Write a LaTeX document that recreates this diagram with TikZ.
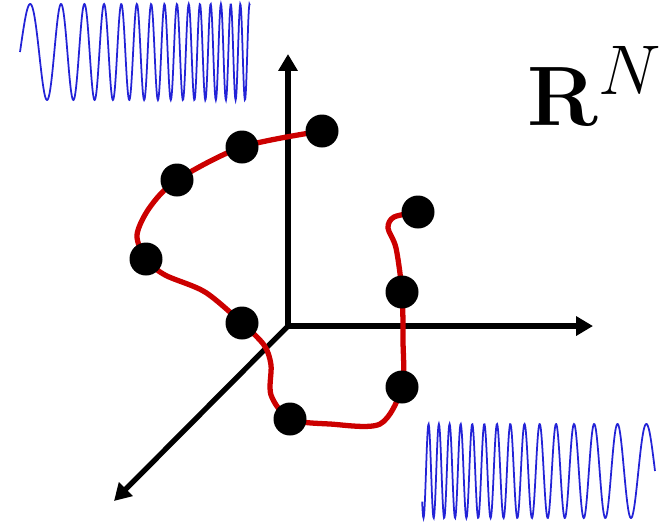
\documentclass[tikz,border=0pt]{standalone}
\usetikzlibrary{arrows.meta}
\definecolor{curvered}{RGB}{204,0,0}
\definecolor{chirpblue}{RGB}{35,35,215}
\begin{document}
\begin{tikzpicture}[x=0.02cm,y=-0.02cm,
  axis/.style={line width=3pt,-{Triangle[length=9.6pt,width=10.6pt]}},
  dot/.style={circle,fill=black,minimum size=0.66cm,inner sep=0pt},
  chirp/.style={chirpblue,line width=1pt},
  trajectory/.style={curvered,line width=3pt,line cap=round,line join=round}]
\useasboundingbox (0,0) rectangle (661,525);
\coordinate (o) at (288,326);
\coordinate (ytip) at (288,54);
\coordinate (xtip) at (593,326);
\coordinate (ztip) at (114,501);
\draw[axis] (o) -- (ytip);
\draw[axis] (o) -- (xtip);
\draw[axis] (o) -- (ztip);
\draw[chirp] plot[domain=0:1,samples=500,variable=\t] ({20+230*\t},{52-48*sin(360*(5.2*\t+10.1*\t*\t))});
\draw[chirp] plot[domain=0:1,samples=500,variable=\t] ({655-233*\t},{471-47*sin(360*(6.4*\t+8.5*\t*\t))});
\coordinate (p1) at (322,131);
\coordinate (p2) at (242,147);
\coordinate (p3) at (177,180);
\coordinate (p4) at (146,259);
\coordinate (p5) at (242,323);
\coordinate (p6) at (290,419);
\coordinate (p7) at (402,387);
\coordinate (p8) at (402,292);
\coordinate (p9) at (418,212);
\draw[trajectory] plot[smooth,tension=0.5] coordinates {(p1) (p2) (p3) (150,207) (137,235) (p4) (165,275) (205,292) (p5) (264,345) (271,365) (271,395) (p6) (330,424) (380,424) (p7) (403,340) (p8) (396,248) (388,228) (394,217) (p9)};
\foreach \p in {1,...,9}
  \node[dot] (n\p) at (p\p) {};
\node[anchor=base west,inner sep=0pt,font=\Huge,scale=1.93] (rn) at (527,125) {$\mathbf{R}^N$};
\end{tikzpicture}
\end{document}
